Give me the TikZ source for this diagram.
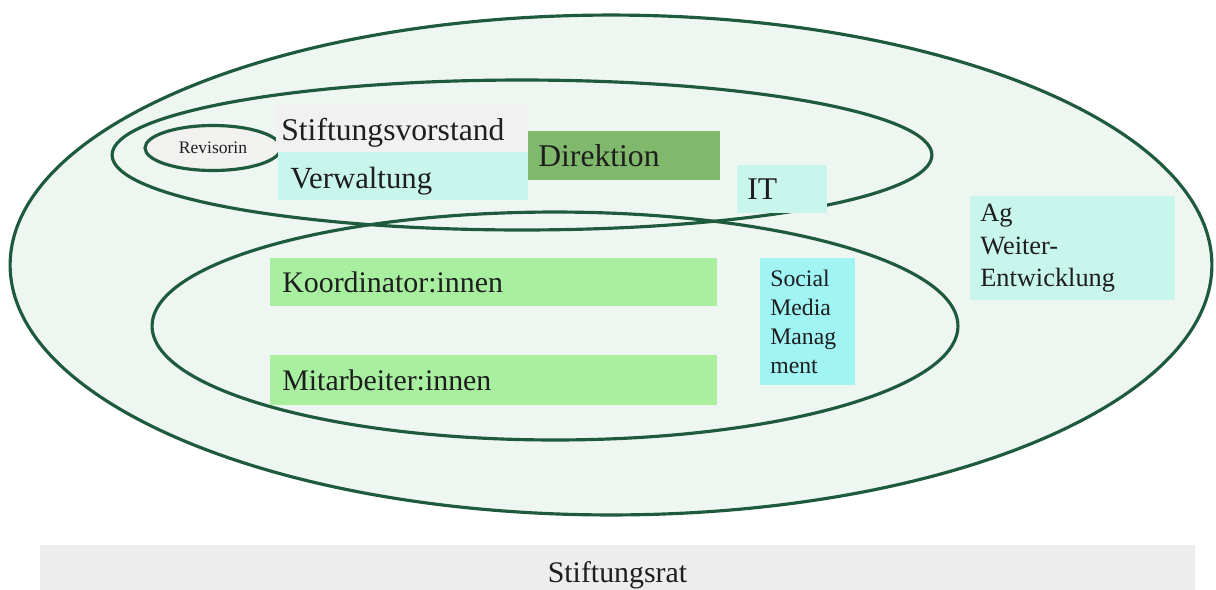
\documentclass[tikz,border=0pt]{standalone}
\usepackage{fontspec}
\setmainfont{Liberation Serif}
\usetikzlibrary{shapes.geometric}
\definecolor{ringline}{HTML}{1E5A3C}
\definecolor{ringfill}{HTML}{EEF6F2}
\definecolor{revfill}{HTML}{F1F2F0}
\definecolor{greyfill}{HTML}{F1F1F1}
\definecolor{aquafill}{HTML}{C8F5EC}
\definecolor{cyanfill}{HTML}{A0F4F4}
\definecolor{limefill}{HTML}{A8F0A0}
\definecolor{dirfill}{HTML}{80B96B}
\definecolor{ratfill}{HTML}{EDEDED}
\definecolor{ink}{HTML}{1E1E1E}

\begin{document}
\begin{tikzpicture}[x=0.02cm,y=-0.02cm,
    ring/.style={ellipse,draw=ringline,line width=1.8pt,inner sep=0pt},
    unit/.style={rectangle,anchor=north west,inner xsep=0.2cm,inner ysep=0pt,align=left,text=ink}]
  \useasboundingbox (0,0) rectangle (1216,589);
  % ellipses
  \node[ring,fill=ringfill,minimum width=24.04cm,minimum height=10cm] (stiftung) at (611,265) {};
  \node[ring,minimum width=16.4cm,minimum height=3cm] (vorstand) at (522,155) {};
  \node[ring,minimum width=16.12cm,minimum height=4.56cm] (team) at (555,326) {};
  \node[ring,fill=revfill,minimum width=2.72cm,minimum height=0.9cm,text=ink,font=\fontsize{10}{12}\selectfont] (revisorin) at (213,148) {Revisorin};
  % boxes
  \node[unit,fill=greyfill,text width=4.84cm,minimum height=0.96cm,inner xsep=0.1cm,text height=0.6cm,text depth=0.12cm,font=\fontsize{18}{22}\selectfont] (vorst) at (276,104) {Stiftungsvorstand};
  \node[unit,fill=aquafill,text width=4.52cm,minimum height=0.96cm,inner xsep=0.24cm,text height=0.6cm,text depth=0.12cm,font=\fontsize{17.5}{21}\selectfont] (verwaltung) at (278,152) {Verwaltung};
  \node[unit,fill=dirfill,text width=3.44cm,minimum height=0.98cm,font=\fontsize{18}{22}\selectfont] (direktion) at (528,131) {Direktion};
  \node[unit,fill=aquafill,text width=1.4cm,minimum height=0.96cm,font=\fontsize{18}{22}\selectfont] (it) at (737,165) {IT};
  \node[unit,fill=aquafill,text width=3.7cm,minimum height=2.08cm,font=\fontsize{15}{18.5}\selectfont] (ag) at (970,196) {Ag\\Weiter-\\Entwicklung};
  \node[unit,fill=cyanfill,text width=1.5cm,minimum height=2.54cm,font=\fontsize{13.5}{16.6}\selectfont] (social) at (760,258) {Social\\Media\\Manag\\ment};
  \node[unit,fill=limefill,text width=8.46cm,minimum height=0.96cm,inner xsep=0.24cm,font=\fontsize{17}{21}\selectfont] (koord) at (270,258) {Koordinator:innen};
  \node[unit,fill=limefill,text width=8.46cm,minimum height=1cm,inner xsep=0.24cm,font=\fontsize{17}{21}\selectfont] (mitarb) at (270,355) {Mitarbeiter:innen};
  % Stiftungsrat
  \node[rectangle,fill=ratfill,minimum width=23.1cm,minimum height=1.2cm,inner sep=0pt,text=ink,font=\fontsize{17}{21}\selectfont] (rat) at (617.5,575) {Stiftungsrat};
\end{tikzpicture}
\end{document}
